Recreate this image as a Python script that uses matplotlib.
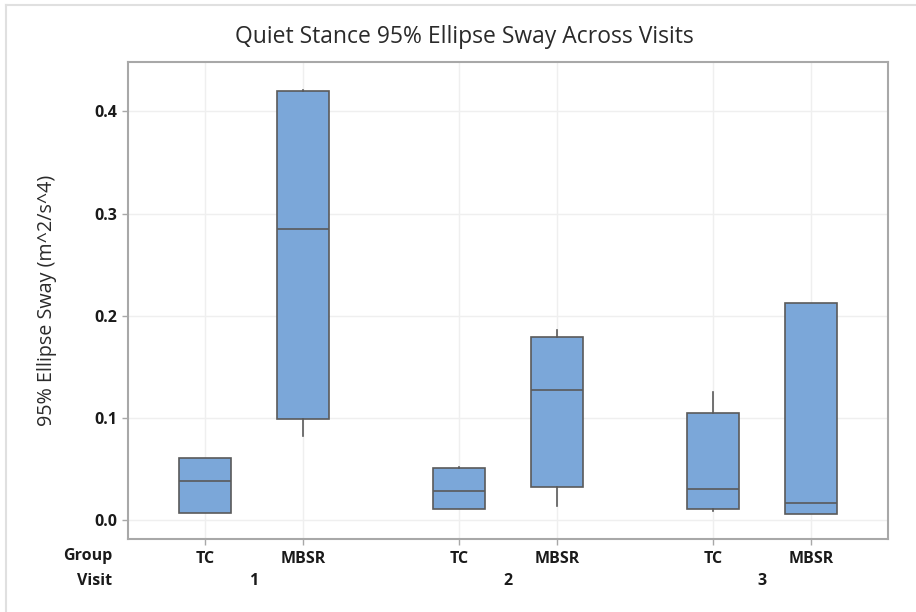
import matplotlib
matplotlib.use("Agg")
import matplotlib.pyplot as plt
from matplotlib.transforms import blended_transform_factory

# box stats
groups = ["TC", "MBSR", "TC", "MBSR", "TC", "MBSR"]
visits = ["1", "2", "3"]
whislo = [0.0074, 0.082, 0.011, 0.0137, 0.0088, 0.0065]
q1 = [0.0074, 0.0994, 0.011, 0.0327, 0.0114, 0.0065]
med = [0.0385, 0.285, 0.0287, 0.127, 0.031, 0.0166]
q3 = [0.061, 0.420, 0.0512, 0.1795, 0.1046, 0.213]
whishi = [0.061, 0.421, 0.0524, 0.186, 0.126, 0.213]
yticks = [0.0, 0.1, 0.2, 0.3, 0.4]

plt.rcParams["font.family"] = ["Open Sans", "DejaVu Sans"]

fig = plt.figure(figsize=(9.16, 6.12), dpi=100)
ax = fig.add_axes([0.1397, 0.1193, 0.8297, 0.7794])

pos = []
for v in range(3):
    pos += [v * 2.6, v * 2.6 + 1]

stats = []
for i in range(len(groups)):
    stats.append(dict(whislo=whislo[i], q1=q1[i], med=med[i], q3=q3[i],
                      whishi=whishi[i], fliers=[]))

ax.bxp(stats, positions=pos, widths=0.53, showcaps=False, patch_artist=True,
       boxprops=dict(facecolor="#7BA7D9", edgecolor="#5a5a5a", linewidth=1.2),
       medianprops=dict(color="#5a5a5a", linewidth=1.2),
       whiskerprops=dict(color="#5a5a5a", linewidth=1.2),
       zorder=3)

ax.set_xlim(-0.79, pos[-1] + 0.79)
ax.set_ylim(-0.0183, 0.4484)
ax.set_yticks(yticks)
ax.set_yticklabels([f"{t:.1f}" for t in yticks])
ax.set_xticks(pos)
ax.set_xticklabels(groups)

ax.grid(True, color="#efefef", linewidth=1, zorder=0)
ax.set_axisbelow(True)
for s in ax.spines.values():
    s.set_color("#a8a8a8")
    s.set_linewidth(1.5)
ax.tick_params(axis="both", colors="#a8a8a8", length=4, width=1,
               labelcolor="#1a1a1a", labelsize=11.5)
ax.tick_params(axis="x", pad=5)
for lbl in ax.get_xticklabels() + ax.get_yticklabels():
    lbl.set_fontweight("bold")

# visit row under the group labels
tr = blended_transform_factory(ax.transData, fig.transFigure)
for v in range(3):
    ax.text(pos[2 * v] + 0.5, 1 - 581 / 612, visits[v], transform=tr,
            ha="center", va="center", fontsize=11.5, fontweight="bold",
            color="#1a1a1a")
fig.text(112 / 916, 1 - 556.5 / 612, "Group", ha="right", va="center",
         fontsize=11.5, fontweight="bold", color="#1a1a1a")
fig.text(112 / 916, 1 - 581 / 612, "Visit", ha="right", va="center",
         fontsize=11.5, fontweight="bold", color="#1a1a1a")

fig.text(47 / 916, 1 - 300 / 612, "95% Ellipse Sway (m^2/s^4)", rotation=90,
         ha="center", va="center", fontsize=14.2, color="#2a2a2a")
fig.text(464 / 916, 1 - 37 / 612, "Quiet Stance 95% Ellipse Sway Across Visits",
         ha="center", va="center", fontsize=16.5, fontweight="medium",
         color="#2a2a2a")

# light frame lines at top and left like the screenshot
fig.add_artist(plt.Line2D([6 / 916, 6 / 916], [0, 1 - 5 / 612],
                          color="#e0e0e0", linewidth=1.5))
fig.add_artist(plt.Line2D([6 / 916, 1], [1 - 5 / 612, 1 - 5 / 612],
                          color="#e0e0e0", linewidth=1.5))

fig.savefig("out.png", dpi=100)
